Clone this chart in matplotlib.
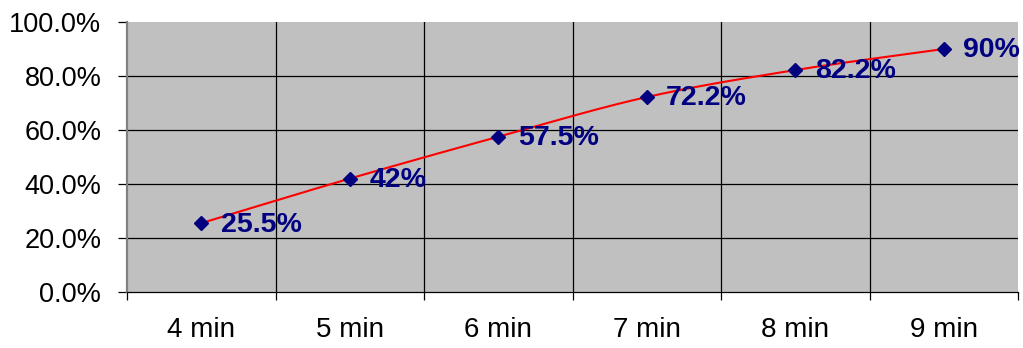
import numpy as np
import matplotlib
matplotlib.use("Agg")
import matplotlib.pyplot as plt
from matplotlib.ticker import FuncFormatter, FixedLocator

plt.rcParams['font.family'] = ['Liberation Sans', 'DejaVu Sans']

categories = ["4 min", "5 min", "6 min", "7 min", "8 min", "9 min"]
values = [25.5, 42.0, 57.5, 72.2, 82.2, 90.0]
value_labels = ["25.5%", "42%", "57.5%", "72.2%", "82.2%", "90%"]

x = np.arange(len(categories)) + 0.5
y = np.array(values) / 100.0


def smooth_curve(xs, ys, n=30):
    """Catmull-Rom style smoothing through the data points."""
    px = np.concatenate([[2 * xs[0] - xs[1]], xs, [2 * xs[-1] - xs[-2]]])
    py = np.concatenate([[2 * ys[0] - ys[1]], ys, [2 * ys[-1] - ys[-2]]])
    out_x, out_y = [], []
    t = np.linspace(0, 1, n)
    for i in range(1, len(px) - 2):
        p0, p1, p2, p3 = (np.array([px[j], py[j]]) for j in range(i - 1, i + 3))
        m1 = (p2 - p0) / 2 / 3
        m2 = (p3 - p1) / 2 / 3
        c0, c1, c2, c3 = p1, p1 + m1, p2 - m2, p2
        pts = ((1 - t) ** 3)[:, None] * c0 + (3 * (1 - t) ** 2 * t)[:, None] * c1 \
            + (3 * (1 - t) * t ** 2)[:, None] * c2 + (t ** 3)[:, None] * c3
        out_x.extend(pts[:, 0])
        out_y.extend(pts[:, 1])
    return np.array(out_x), np.array(out_y)


fig = plt.figure(figsize=(10.23, 3.48), dpi=100)
ax = fig.add_axes([127 / 1023, 1 - 292 / 348, (1018 - 127) / 1023, (292 - 22) / 348])
ax.set_facecolor("#C0C0C0")

ax.set_xlim(0, len(categories))
ax.set_ylim(0, 1.0)

# gridlines
for gx in range(1, len(categories)):
    ax.axvline(gx, color="black", lw=0.9, zorder=1)
for gy in [0.2, 0.4, 0.6, 0.8]:
    ax.axhline(gy, color="black", lw=0.9, zorder=1)

sx, sy = smooth_curve(x, y)
ax.plot(sx, sy, color="#FF0000", lw=1.5, zorder=3)
ax.plot(x, y, linestyle="none", marker="D", markersize=7.2,
        color="#000080", zorder=4)

for xi, yi, lab in zip(x, y, value_labels):
    ax.annotate(lab, (xi, yi), xytext=(14, -1), textcoords="offset points",
                ha="left", va="center", fontsize=20.5, fontweight="bold",
                color="#000080", zorder=5)

ax.yaxis.set_major_locator(FixedLocator([0, 0.2, 0.4, 0.6, 0.8, 1.0]))
ax.yaxis.set_major_formatter(FuncFormatter(lambda v, p: f"{v * 100:.1f}%"))
ax.xaxis.set_major_locator(FixedLocator(list(range(len(categories) + 1))))
ax.xaxis.set_major_formatter(FuncFormatter(lambda v, p: ""))
ax.xaxis.set_minor_locator(FixedLocator(list(x)))
ax.xaxis.set_minor_formatter(FuncFormatter(lambda v, p: categories[int(v)]))

ax.tick_params(axis="y", direction="out", length=6.5, width=0.9, pad=12,
               labelsize=19.5, colors="black")
ax.tick_params(axis="x", which="major", direction="out", length=6, width=0.9)
ax.tick_params(axis="x", which="minor", length=0, pad=18, labelsize=20)

for side in ["top", "right"]:
    ax.spines[side].set_visible(False)
ax.spines["left"].set_color("#808080")
ax.spines["left"].set_linewidth(1.6)
ax.spines["bottom"].set_color("black")
ax.spines["bottom"].set_linewidth(0.9)

fig.savefig("out.png", dpi=100, facecolor="white")
